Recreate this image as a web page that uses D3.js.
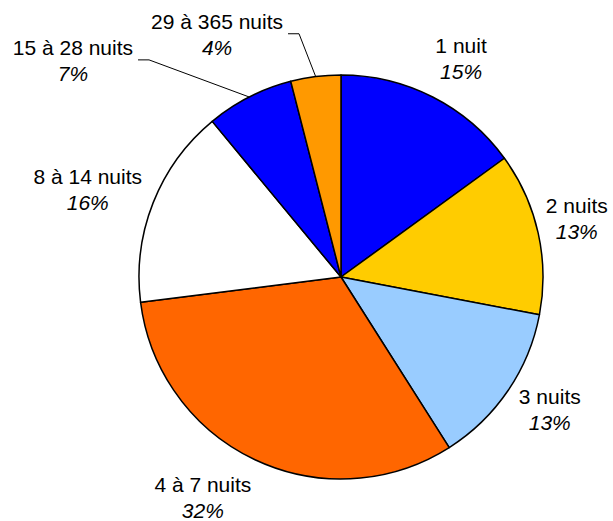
<!DOCTYPE html>
<html>
<head>
<meta charset="utf-8">
<script src="https://cdn.jsdelivr.net/npm/d3@7"></script>
<style>
  body { margin: 0; background: #fff; }
  text { font-family: "Liberation Sans", Arial, sans-serif; font-size: 21px; fill: #000; }
</style>
</head>
<body>
<svg id="chart" width="613" height="521"></svg>
<script>
// categories and shares (%)
const categories = ["1 nuit", "2 nuits", "3 nuits", "4 à 7 nuits", "8 à 14 nuits", "15 à 28 nuits", "29 à 365 nuits"];
const shares = [15, 13, 13, 32, 16, 7, 4];
const colors = ["#0000FF", "#FFCC00", "#99CCFF", "#FF6600", "#FFFFFF", "#0000FF", "#FF9900"];
// label placement: [angle shift in degrees, distance from centre], leader line flag
const labelShift = [1.7, -1.4, -1.9, 6.9, -2.5, -24, -19.8];
const labelRadius = [250, 243, 247, 260, 268, 345, 273];
const hasLeader = [false, false, false, false, false, true, true];

const width = 613, height = 521;
const cx = 341, cy = 277, radius = 202;

const svg = d3.select("#chart");
const g = svg.append("g").attr("transform", `translate(${cx},${cy})`);

const pie = d3.pie().sort(null).value(d => d)(shares);
const arc = d3.arc().innerRadius(0).outerRadius(radius);

g.selectAll("path.slice")
  .data(pie)
  .join("path")
    .attr("class", "slice")
    .attr("d", arc)
    .attr("fill", (d, i) => colors[i])
    .attr("stroke", "#000")
    .attr("stroke-width", 1.5)
    .attr("stroke-linejoin", "round");

const polar = (angle, r) => [Math.sin(angle) * r, -Math.cos(angle) * r];

const labels = g.selectAll("g.label")
  .data(pie)
  .join("g")
    .attr("class", "label")
    .attr("transform", (d, i) => {
      const mid = (d.startAngle + d.endAngle) / 2 + labelShift[i] * Math.PI / 180;
      const [x, y] = polar(mid, labelRadius[i]);
      return `translate(${x},${y})`;
    });

labels.append("text")
  .attr("class", "name")
  .attr("text-anchor", "middle")
  .attr("y", -5)
  .text((d, i) => categories[i]);

labels.append("text")
  .attr("text-anchor", "middle")
  .attr("y", 21)
  .style("font-style", "italic")
  .text(d => d.value + "%");

// leader lines for the small slices
labels.each(function(d, i) {
  if (!hasLeader[i]) return;
  const mid = (d.startAngle + d.endAngle) / 2;
  const lbl = d3.select(this);
  const t = lbl.attr("transform").match(/translate\(([-\d.]+),([-\d.]+)\)/);
  const lx = +t[1], ly = +t[2];
  const w = lbl.select("text.name").node().getComputedTextLength();
  const endX = lx + w / 2 + 5;
  const elbowX = endX + 11;
  const [ax, ay] = polar(mid, radius);
  g.append("polyline")
    .attr("points", `${endX},${ly} ${elbowX},${ly} ${ax},${ay}`)
    .attr("fill", "none")
    .attr("stroke", "#000")
    .attr("stroke-width", 1);
});
</script>
</body>
</html>
